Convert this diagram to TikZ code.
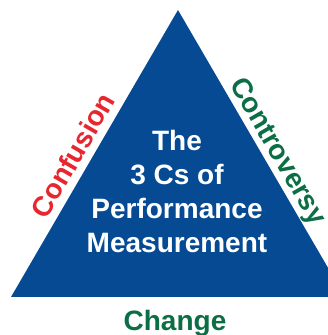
\documentclass[tikz,border=0pt]{standalone}
\usepackage{fontspec}
\setmainfont{Liberation Sans}
\definecolor{triblue}{HTML}{054A92}
\definecolor{cred}{HTML}{E8262F}
\definecolor{cgreen}{HTML}{0B6E45}
\begin{document}
\begin{tikzpicture}[x=1bp,y=1bp,
  bigtext/.style={font=\fontsize{28bp}{33.7bp}\selectfont\bfseries, inner sep=0pt}]
\useasboundingbox (0,0) rectangle (328,335);
\clip (0,0) rectangle (328,335);
% the triangle (its right corner runs past the edge)
\coordinate (apex) at (178,325);
\coordinate (left) at (11,38);
\coordinate (right) at (345,38);
\fill[triblue] (apex) -- (right) -- (left) -- cycle;
% title inside
\node[bigtext, white, align=center] (title) at (177,143.5)
  {The\\3 Cs of\\Performance\\Measurement};
% the three Cs along the sides
\node[bigtext, cred, rotate=60, anchor=base] (confusion) at (81.4,174.7) {Confusion};
\node[bigtext, cgreen, rotate=-60, anchor=base] (controversy) at (270.8,179.5) {Controversy};
\node[bigtext, cgreen, anchor=base] (change) at (175,5) {Change};
\end{tikzpicture}
\end{document}
